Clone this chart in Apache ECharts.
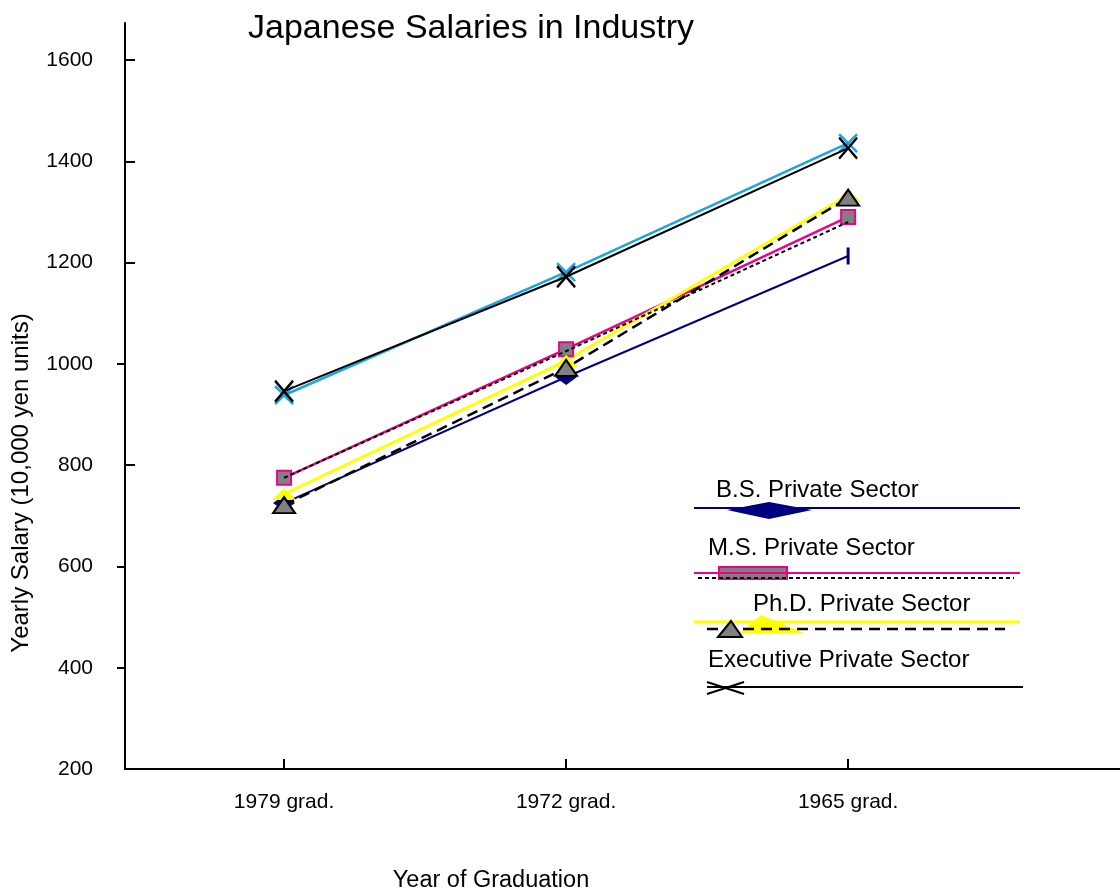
<!DOCTYPE html>
<html>
<head>
<meta charset="utf-8">
<script src="https://cdn.jsdelivr.net/npm/echarts@6/dist/echarts.min.js"></script>
<style>
  html, body { margin: 0; padding: 0; background: #ffffff; }
  #chart { width: 1120px; height: 896px; }
</style>
</head>
<body>
<div id="chart"></div>
<script>
// Graduation cohorts along the x axis
const categories = ['1979 grad.', '1972 grad.', '1965 grad.'];
// Salary tick labels (10,000 yen units)
const yTickLabels = [200, 400, 600, 800, 1000, 1200, 1400, 1600];
const yTicksInside = [800, 1200, 1400, 1600];
const yTicksOutside = [400, 600, 1000];

// Yearly salaries per degree level
const bsPrivate = [725, 974, 1213];
const msPrivate = [775, 1029, 1290];
const msPrivateDotted = [775, 1025, 1280];
const phdPrivate = [743, 1006, 1333];
const phdPrivateDashed = [721, 992, 1328];
const execPrivate = [946, 1172, 1426];
const execPrivateAlt = [938, 1181, 1436];

const SANS = "'Liberation Sans', Arial, Helvetica, sans-serif";

const NAVY = '#000080';
const PINK = '#ec008c';
const YELLOW = '#ffff00';
const CYAN = '#1aa7e0';
const GRAY = '#808080';
const CROSS = 'path://M0,0L20,22M20,0L0,22';

const pts = vals => vals.map((v, i) => [i, v]);

const chart = echarts.init(document.getElementById('chart'), null, { renderer: 'canvas' });

const option = {
  animation: false,
  backgroundColor: '#ffffff',
  grid: { left: 125, right: 0, top: 23, bottom: 127, containLabel: false },
  xAxis: {
    type: 'value',
    min: -0.564,
    max: 2.964,
    splitLine: { show: false },
    axisLine: { show: true, onZero: false, lineStyle: { color: '#000', width: 2 } },
    axisTick: { show: true, inside: true, length: 10, customValues: categories.map((c, i) => i), lineStyle: { color: '#000', width: 2 } },
    axisLabel: {
      customValues: categories.map((c, i) => i),
      formatter: v => categories[Math.round(v)],
      margin: 23,
      color: '#000',
      fontFamily: SANS,
      fontSize: 21
    }
  },
  yAxis: [
    {
      type: 'value',
      min: 200,
      max: 1673,
      splitLine: { show: false },
      axisLine: { show: true, onZero: false, lineStyle: { color: '#000', width: 2 } },
      axisTick: { show: true, inside: true, length: 10, customValues: yTicksInside, lineStyle: { color: '#000', width: 2 } },
      axisLabel: {
        customValues: yTickLabels,
        formatter: v => String(v),
        margin: 32,
        color: '#000',
        fontFamily: SANS,
        fontSize: 21
      }
    },
    {
      type: 'value',
      min: 200,
      max: 1673,
      position: 'left',
      splitLine: { show: false },
      axisLine: { show: false, onZero: false },
      axisTick: { show: true, inside: false, length: 8, customValues: yTicksOutside, lineStyle: { color: '#000', width: 2 } },
      axisLabel: { show: false }
    }
  ],
  series: [
    {
      name: 'Executive Private Sector (alt)',
      type: 'line',
      data: pts(execPrivateAlt),
      symbol: CROSS,
      symbolSize: [18, 18],
      lineStyle: { color: CYAN, width: 2.5 },
      itemStyle: { color: CYAN, borderColor: CYAN, borderWidth: 2.5 },
      z: 2
    },
    {
      name: 'B.S. Private Sector',
      type: 'line',
      data: bsPrivate.map((v, i) => i === bsPrivate.length - 1
        ? { value: [i, v], symbol: 'rect', symbolSize: [3, 17] }
        : [i, v]),
      symbol: 'diamond',
      symbolSize: [22, 16],
      lineStyle: { color: NAVY, width: 2 },
      itemStyle: { color: NAVY },
      z: 3
    },
    {
      name: 'M.S. Private Sector',
      type: 'line',
      data: pts(msPrivate),
      symbol: 'rect',
      symbolSize: 14,
      lineStyle: { color: PINK, width: 2.5 },
      itemStyle: { color: GRAY, borderColor: PINK, borderWidth: 2 },
      z: 4
    },
    {
      name: 'M.S. Private Sector (dotted)',
      type: 'line',
      data: pts(msPrivateDotted),
      symbol: 'none',
      lineStyle: { color: '#000', width: 2, type: [4, 3] },
      z: 5
    },
    {
      name: 'Ph.D. Private Sector',
      type: 'line',
      data: pts(phdPrivate),
      symbol: 'triangle',
      symbolSize: [24, 12],
      lineStyle: { color: YELLOW, width: 3 },
      itemStyle: { color: YELLOW },
      z: 4
    },
    {
      name: 'Ph.D. Private Sector (dashed)',
      type: 'line',
      data: pts(phdPrivateDashed),
      symbol: 'triangle',
      symbolSize: [22, 16],
      lineStyle: { color: '#000', width: 2.5, type: [11, 6] },
      itemStyle: { color: GRAY, borderColor: '#000', borderWidth: 2 },
      z: 6
    },
    {
      name: 'Executive Private Sector',
      type: 'line',
      data: pts(execPrivate),
      symbol: CROSS,
      symbolSize: [18, 21],
      lineStyle: { color: '#000', width: 2 },
      itemStyle: { color: '#000', borderColor: '#000', borderWidth: 2.5 },
      z: 7
    }
  ],
  graphic: [
    // Title and axis names
    { type: 'text', left: 248, top: 12, style: { text: 'Japanese Salaries in Industry', font: '34px ' + SANS, fill: '#000' } },
    { type: 'text', x: 491, y: 881, style: { text: 'Year of Graduation', font: '23.5px ' + SANS, fill: '#000', align: 'center', verticalAlign: 'middle' } },
    { type: 'text', x: 21, y: 483, rotation: Math.PI / 2, style: { text: 'Yearly Salary (10,000 yen units)', font: '24px ' + SANS, fill: '#000', align: 'center', verticalAlign: 'middle' } },

    // Legend: B.S.
    { type: 'text', x: 716, y: 490, style: { text: 'B.S. Private Sector', font: '24px ' + SANS, fill: '#000', align: 'left', verticalAlign: 'middle' } },
    { type: 'line', shape: { x1: 694, y1: 508, x2: 1020, y2: 508 }, style: { stroke: NAVY, lineWidth: 2 } },
    { type: 'polygon', shape: { points: [[727, 510], [769, 502], [812, 510], [769, 519]] }, style: { fill: NAVY } },

    // Legend: M.S.
    { type: 'text', x: 708, y: 548, style: { text: 'M.S. Private Sector', font: '24px ' + SANS, fill: '#000', align: 'left', verticalAlign: 'middle' } },
    { type: 'rect', shape: { x: 719, y: 567, width: 68, height: 12 }, style: { fill: GRAY, stroke: PINK, lineWidth: 2 } },
    { type: 'line', shape: { x1: 694, y1: 573, x2: 1020, y2: 573 }, style: { stroke: PINK, lineWidth: 2 } },
    { type: 'line', shape: { x1: 698, y1: 578, x2: 1014, y2: 578 }, style: { stroke: '#000', lineWidth: 2, lineDash: [4, 3] } },

    // Legend: Ph.D.
    { type: 'text', x: 753, y: 604, style: { text: 'Ph.D. Private Sector', font: '24px ' + SANS, fill: '#000', align: 'left', verticalAlign: 'middle' } },
    { type: 'line', shape: { x1: 694, y1: 622, x2: 1020, y2: 622 }, style: { stroke: YELLOW, lineWidth: 3 } },
    { type: 'polygon', shape: { points: [[740, 633], [761, 615], [804, 633]] }, style: { fill: YELLOW } },
    { type: 'line', shape: { x1: 707, y1: 629, x2: 1005, y2: 629 }, style: { stroke: '#000', lineWidth: 2.5, lineDash: [11, 7] } },
    { type: 'polygon', shape: { points: [[718, 637], [731, 621], [742, 637]] }, style: { fill: GRAY, stroke: '#000', lineWidth: 2 } },

    // Legend: Executive
    { type: 'text', x: 708, y: 660, style: { text: 'Executive Private Sector', font: '24px ' + SANS, fill: '#000', align: 'left', verticalAlign: 'middle' } },
    { type: 'line', shape: { x1: 707, y1: 687, x2: 1023, y2: 687 }, style: { stroke: '#000', lineWidth: 2 } },
    { type: 'line', shape: { x1: 707, y1: 682, x2: 744, y2: 694 }, style: { stroke: '#000', lineWidth: 2 } },
    { type: 'line', shape: { x1: 707, y1: 694, x2: 744, y2: 682 }, style: { stroke: '#000', lineWidth: 2 } }
  ]
};

chart.setOption(option);
</script>
</body>
</html>
